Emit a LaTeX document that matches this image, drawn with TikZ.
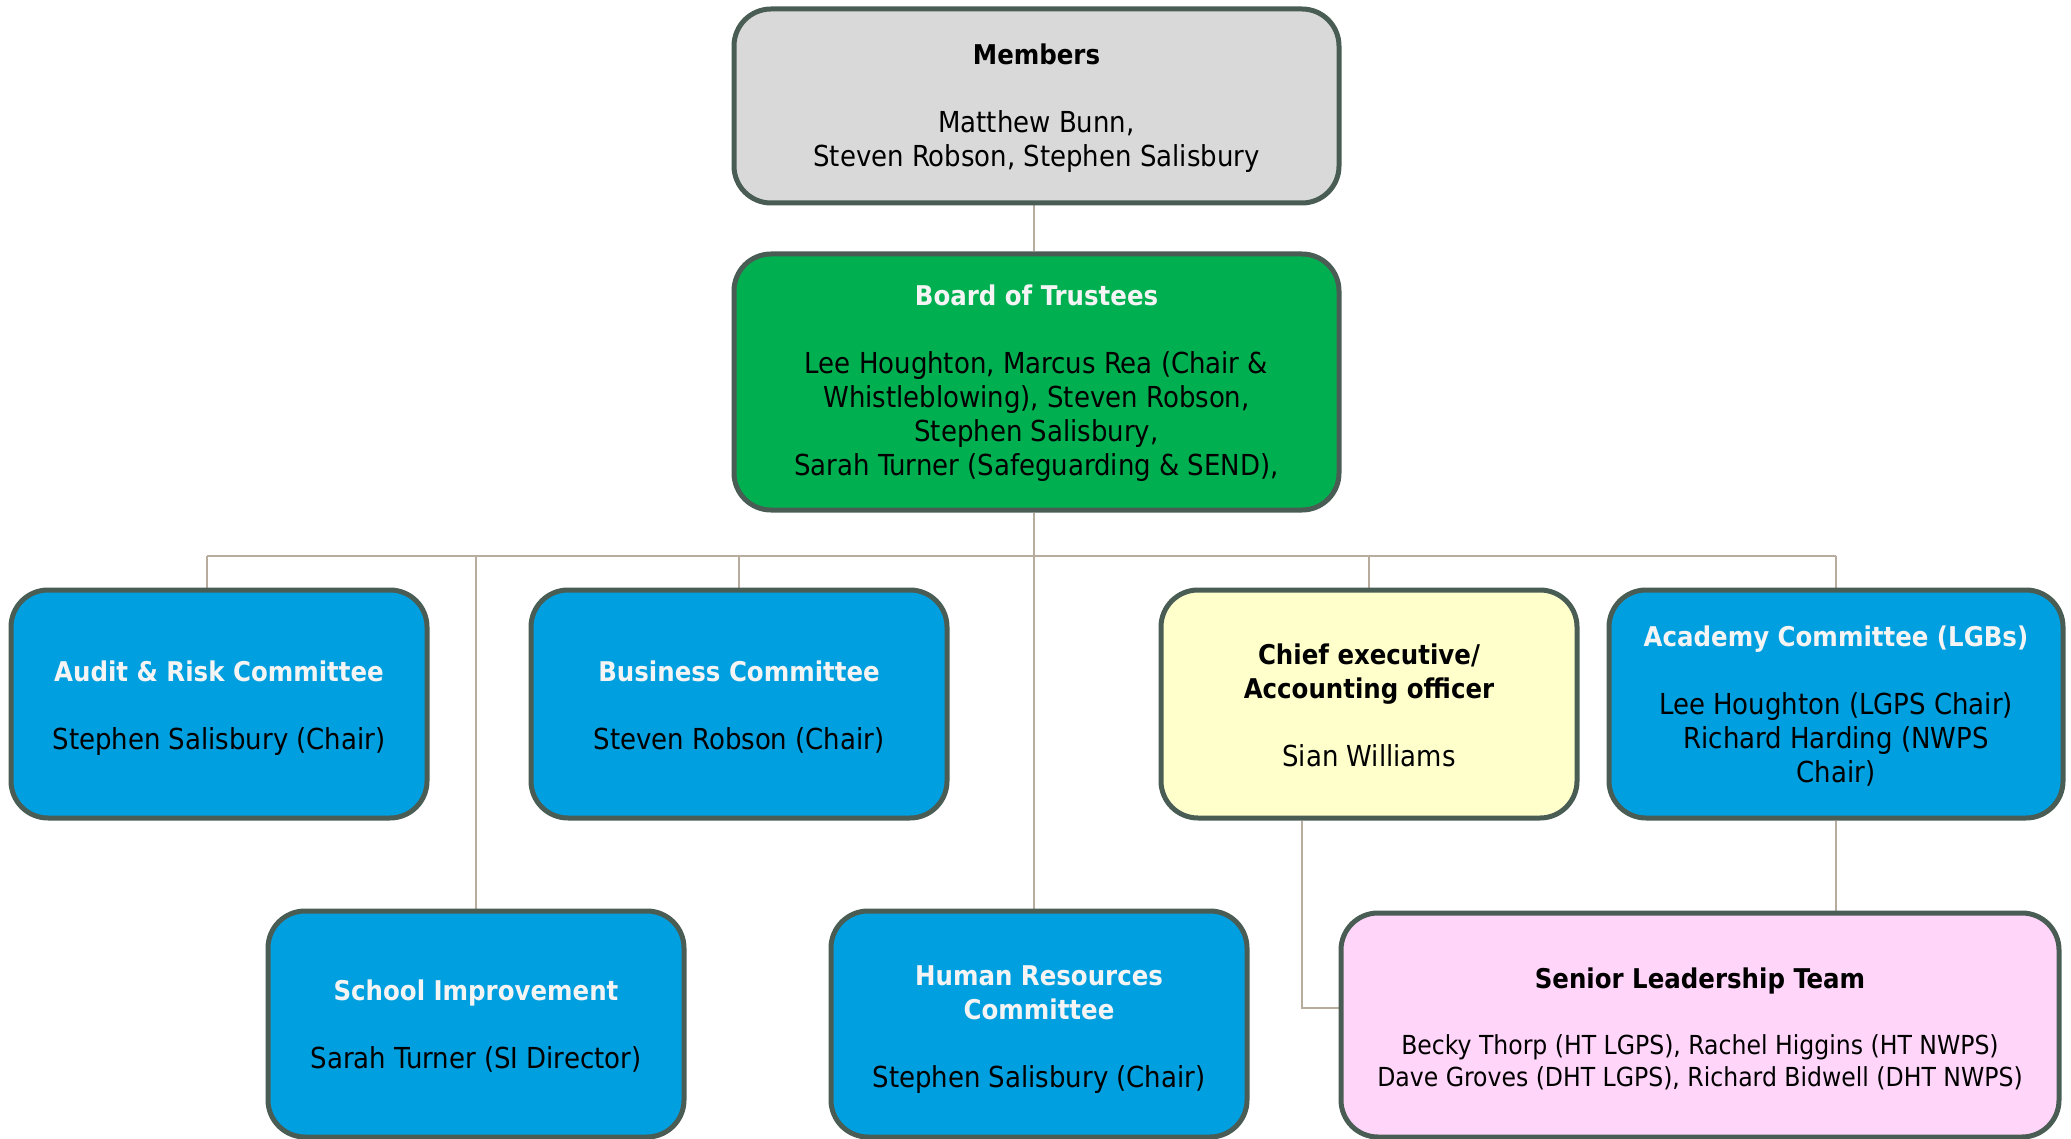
\documentclass[tikz,border=0pt]{standalone}
\usepackage{fontspec}
\setmainfont{DejaVu Sans Condensed}
\usetikzlibrary{backgrounds}
\definecolor{strokec}{HTML}{4A5D55}
\definecolor{connc}{HTML}{B8AC9E}
\definecolor{graybox}{HTML}{D9D9D9}
\definecolor{greenbox}{HTML}{00B050}
\definecolor{bluebox}{HTML}{009FDF}
\definecolor{yellowbox}{HTML}{FFFFCC}
\definecolor{pinkbox}{HTML}{FFD5FA}
\definecolor{titlew}{HTML}{F4F4F4}
\newcommand{\ttlb}[1]{{\fontsize{27.2}{34}\selectfont\bfseries #1}}
\newcommand{\ttlw}[1]{{\fontsize{27.2}{34}\selectfont\bfseries\color{titlew}#1}}
\begin{document}
\begin{tikzpicture}[x=1pt,y=-1pt,
  box/.style={draw=strokec, line width=5pt, rounded corners=37pt, rectangle, inner sep=0pt},
  txt/.style={align=center, font=\fontsize{28.9}{34}\selectfont, inner sep=0pt, anchor=base},
  conn/.style={draw=connc, line width=1.6pt}]
\useasboundingbox (0,0) rectangle (2071,1139);

% boxes
\node[box, fill=graybox, minimum width=605pt, minimum height=194pt] (members) at (1036.5,106) {};
\node[box, fill=greenbox, minimum width=605pt, minimum height=256pt] (board) at (1036.5,382) {};
\node[box, fill=bluebox, minimum width=416pt, minimum height=228pt] (audit) at (219,704) {};
\node[box, fill=bluebox, minimum width=416pt, minimum height=228pt] (business) at (739,704) {};
\node[box, fill=yellowbox, minimum width=416pt, minimum height=228pt] (chief) at (1369,704) {};
\node[box, fill=bluebox, minimum width=454pt, minimum height=228pt] (academy) at (1836,704) {};
\node[box, fill=bluebox, minimum width=416pt, minimum height=226pt] (school) at (476,1024) {};
\node[box, fill=bluebox, minimum width=416pt, minimum height=226pt] (hr) at (1039,1024) {};
\node[box, fill=pinkbox, minimum width=718pt, minimum height=224pt] (slt) at (1700,1025) {};

% texts (anchored at the baseline of the last line)
\node[txt] (memberst) at (members |- 0,167) {\ttlb{Members}\\[34pt]Matthew Bunn,\\Steven Robson, Stephen Salisbury};
\node[txt] (boardt) at (board |- 0,475) {\ttlw{Board of Trustees}\\[34pt]Lee Houghton, Marcus Rea (Chair \&\\Whistleblowing), Steven Robson,\\Stephen Salisbury,\\Sarah Turner (Safeguarding \& SEND),};
\node[txt] (auditt) at (audit |- 0,749) {\ttlw{Audit \& Risk Committee}\\[34pt]Stephen Salisbury (Chair)};
\node[txt] (businesst) at (business |- 0,749) {\ttlw{Business Committee}\\[34pt]Steven Robson (Chair)};
\node[txt] (chieft) at (chief |- 0,766) {\ttlb{Chief executive/}\\\ttlb{Accounting officer}\\[34pt]Sian Williams};
\node[txt] (academyt) at (academy |- 0,782) {\ttlw{Academy Committee (LGBs)}\\[34pt]Lee Houghton (LGPS Chair)\\Richard Harding (NWPS\\Chair)};
\node[txt] (schoolt) at (school |- 0,1068) {\ttlw{School Improvement}\\[34pt]Sarah Turner (SI Director)};
\node[txt] (hrt) at (hr |- 0,1087) {\ttlw{Human Resources}\\\ttlw{Committee}\\[34pt]Stephen Salisbury (Chair)};
\node[txt, font=\fontsize{26.2}{32}\selectfont] (sltt) at (slt |- 0,1086) {\ttlb{Senior Leadership Team}\\[34pt]Becky Thorp (HT LGPS), Rachel Higgins (HT NWPS)\\Dave Groves (DHT LGPS), Richard Bidwell (DHT NWPS)};

% connectors
\coordinate (busL) at (207,556);
\coordinate (busR) at (1836,556);
\coordinate (trunk) at (1034,556);
\begin{scope}[on background layer]
\fill[white] (0,0) rectangle (2071,1139);
\draw[conn] (members.south -| trunk) -- (board.north -| trunk);
\draw[conn] (board.south -| trunk) -- (hr.north -| trunk);
\draw[conn] (busL) -- (busR);
\draw[conn] (busL) -- (busL |- audit.north);
\draw[conn] (business.north) -- (business.north |- busL);
\draw[conn] (school.north) -- (school.north |- busL);
\draw[conn] (chief.north) -- (chief.north |- busL);
\draw[conn] (academy.north) -- (busR);
\draw[conn] (academy.south) -- (academy.south |- slt.north);
\draw[conn] ([xshift=-67pt]chief.south) |- ([yshift=17pt]slt.west);
\end{scope}
\end{tikzpicture}
\end{document}
